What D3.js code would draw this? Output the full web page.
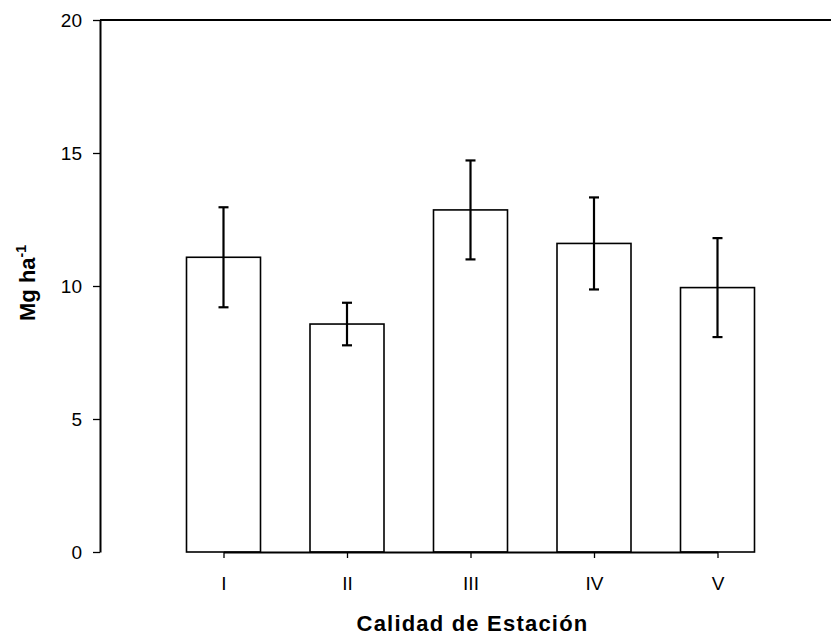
<!DOCTYPE html>
<html>
<head>
<meta charset="utf-8">
<script src="https://cdn.jsdelivr.net/npm/d3@7/dist/d3.min.js"></script>
<style>
  body { margin: 0; background: #fff; }
  svg { display: block; font-family: "Liberation Sans", Arial, sans-serif; }
</style>
</head>
<body>
<div class="chart"></div>
<script>
// data
const categories = ["I", "II", "III", "IV", "V"];
const means = [11.08, 8.57, 12.86, 11.6, 9.94];
const errors = [1.88, 0.8, 1.86, 1.73, 1.86];
const yTicks = [0, 5, 10, 15, 20];

const width = 831, height = 636;
const margin = { top: 20, right: -10, bottom: 84, left: 100 };

const svg = d3.select(".chart").append("svg")
  .attr("width", width)
  .attr("height", height);

const plotW = width - margin.left - margin.right,
  plotH = height - margin.top - margin.bottom;

const g = svg.append("g")
  .attr("transform", "translate(" + margin.left + "," + margin.top + ")");

// one empty step either side of the categories
const step = plotW / 6;
const x = d3.scalePoint()
  .domain(categories)
  .range([step, plotW - step]);

const y = d3.scaleLinear()
  .domain([0, 20])
  .range([plotH, 0]);

const barW = 74;

// bars
g.selectAll("rect.bar")
  .data(categories)
  .enter().append("rect")
  .attr("class", "bar")
  .attr("x", d => x(d) - barW / 2)
  .attr("y", (d, i) => y(means[i]))
  .attr("width", barW)
  .attr("height", (d, i) => plotH - y(means[i]))
  .style("fill", "#fff")
  .style("stroke", "#000")
  .style("stroke-width", 1.6);

// error bars
const err = g.selectAll("g.err")
  .data(categories)
  .enter().append("g")
  .attr("class", "err")
  .style("stroke", "#000")
  .style("stroke-width", 2.2);

err.append("line")
  .attr("x1", d => x(d)).attr("x2", d => x(d))
  .attr("y1", (d, i) => y(means[i] + errors[i]))
  .attr("y2", (d, i) => y(means[i] - errors[i]));
err.append("line")
  .attr("x1", d => x(d) - 5).attr("x2", d => x(d) + 5)
  .attr("y1", (d, i) => y(means[i] + errors[i]))
  .attr("y2", (d, i) => y(means[i] + errors[i]));
err.append("line")
  .attr("x1", d => x(d) - 5).attr("x2", d => x(d) + 5)
  .attr("y1", (d, i) => y(means[i] - errors[i]))
  .attr("y2", (d, i) => y(means[i] - errors[i]));

// top frame line
g.append("line")
  .attr("x1", 0).attr("x2", plotW)
  .attr("y1", 0).attr("y2", 0)
  .style("stroke", "#000")
  .style("stroke-width", 2);

// axes
const yAxis = g.append("g")
  .call(d3.axisLeft(y).tickValues(yTicks).tickSize(7).tickPadding(11).tickSizeOuter(0));

const xAxis = g.append("g")
  .attr("transform", "translate(0," + plotH + ")")
  .call(d3.axisBottom(x).tickSize(6).tickPadding(19).tickSizeOuter(0));

[yAxis, xAxis].forEach(a => {
  a.select(".domain").style("stroke", "#000").style("stroke-width", 2);
  a.selectAll(".tick line").style("stroke", "#000").style("stroke-width", 1.3);
  a.selectAll("text")
    .style("font-family", "Liberation Sans, Arial, sans-serif")
    .style("font-size", "19px")
    .style("fill", "#000");
});

// axis titles
svg.append("text")
  .attr("x", margin.left + x("III") + 2)
  .attr("y", 631)
  .attr("text-anchor", "middle")
  .style("font-size", "22px")
  .style("font-weight", "bold")
  .style("letter-spacing", "1.2px")
  .text("Calidad de Estación");

const yl = svg.append("text")
  .attr("transform", "translate(35," + (margin.top + y(10) - 3) + ") rotate(-90)")
  .attr("text-anchor", "middle")
  .style("font-size", "22px")
  .style("font-weight", "bold");
yl.append("tspan").text("Mg ha");
yl.append("tspan")
  .attr("dy", -9)
  .style("font-size", "14px")
  .text("-1");
</script>
</body>
</html>
